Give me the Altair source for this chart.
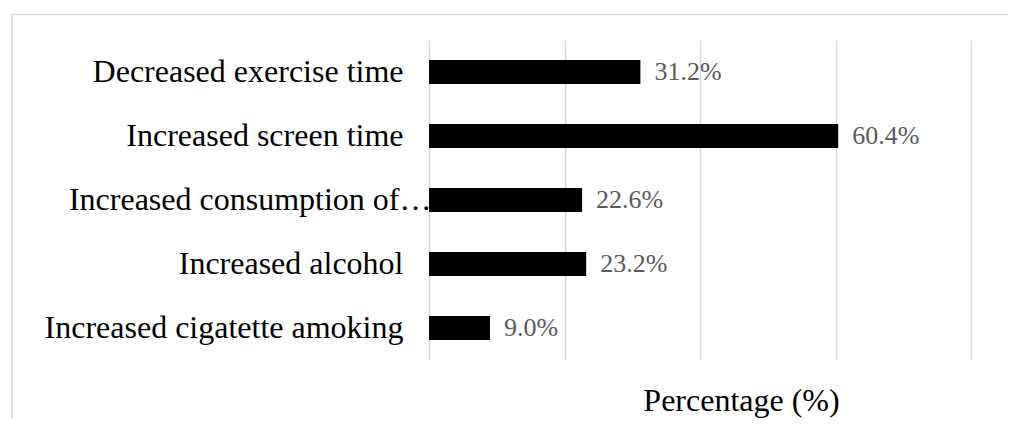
import altair as alt
import pandas as pd

categories = [
    "Decreased exercise time",
    "Increased screen time",
    "Increased consumption of…",
    "Increased alcohol\u00a0",
    "Increased cigatette amoking",
]
values = [31.2, 60.4, 22.6, 23.2, 9.0]
x_ticks = [0, 20, 40, 60, 80]
x_title = "Percentage (%)"

df = pd.DataFrame({
    "category": categories,
    "value": values,
    "label": [f"{v:.1f}%" for v in values],
})
border_df = pd.DataFrame({"k": [0]})

FONT = "Liberation Serif"
GRID = "#d9d9d9"

y_enc = alt.Y(
    "category:N",
    sort=categories,
    title=None,
    scale=alt.Scale(paddingInner=0.625, paddingOuter=0.3125),
    axis=alt.Axis(
        labelFont=FONT,
        labelFontSize=32,
        labelColor="#000000",
        labelLimit=600,
        ticks=False,
        domain=False,
        grid=False,
        labelPadding={
            "condition": {"test": "datum.value == 'Increased consumption of…'", "value": -2},
            "value": 26,
        },
    ),
)

x_enc = alt.X(
    "value:Q",
    scale=alt.Scale(domain=[0, 80], nice=False, zero=True),
    axis=alt.Axis(
        values=x_ticks,
        labels=False,
        ticks=False,
        domain=False,
        grid=True,
        gridColor=GRID,
        gridWidth=1.5,
        title=x_title,
        titleFont=FONT,
        titleFontSize=32,
        titleFontWeight="normal",
        titleColor="#000000",
        titleX=312,
        titleY=50,
        titleBaseline="alphabetic",
        titleAlign="center",
    ),
)

base = alt.Chart(df)
bars = base.mark_bar(color="#000000").encode(x=x_enc, y=y_enc)
text = base.mark_text(
    align="left", baseline="middle", dx=14, font=FONT, fontSize=26, color="#595959"
).encode(x=alt.X("value:Q"), y=alt.Y("category:N", sort=categories), text="label:N")

top_border = alt.Chart(border_df).mark_rule(color=GRID, strokeWidth=1.5).encode(
    x=alt.value(-417), x2=alt.value(579), y=alt.value(-25.5)
)
left_border = alt.Chart(border_df).mark_rule(color=GRID, strokeWidth=1.5).encode(
    x=alt.value(-417), y=alt.value(-25.5), y2=alt.value(390)
)

chart = (
    alt.layer(bars, text, top_border, left_border)
    .properties(
        width=542,
        height=320,
        autosize=alt.AutoSizeParams(type="none"),
        padding={"left": 421, "top": 32, "right": 37, "bottom": 58},
        background="white",
    )
    .configure_view(stroke=None)
)

chart.save("out.html", embed_options={"renderer": "svg", "actions": False})
